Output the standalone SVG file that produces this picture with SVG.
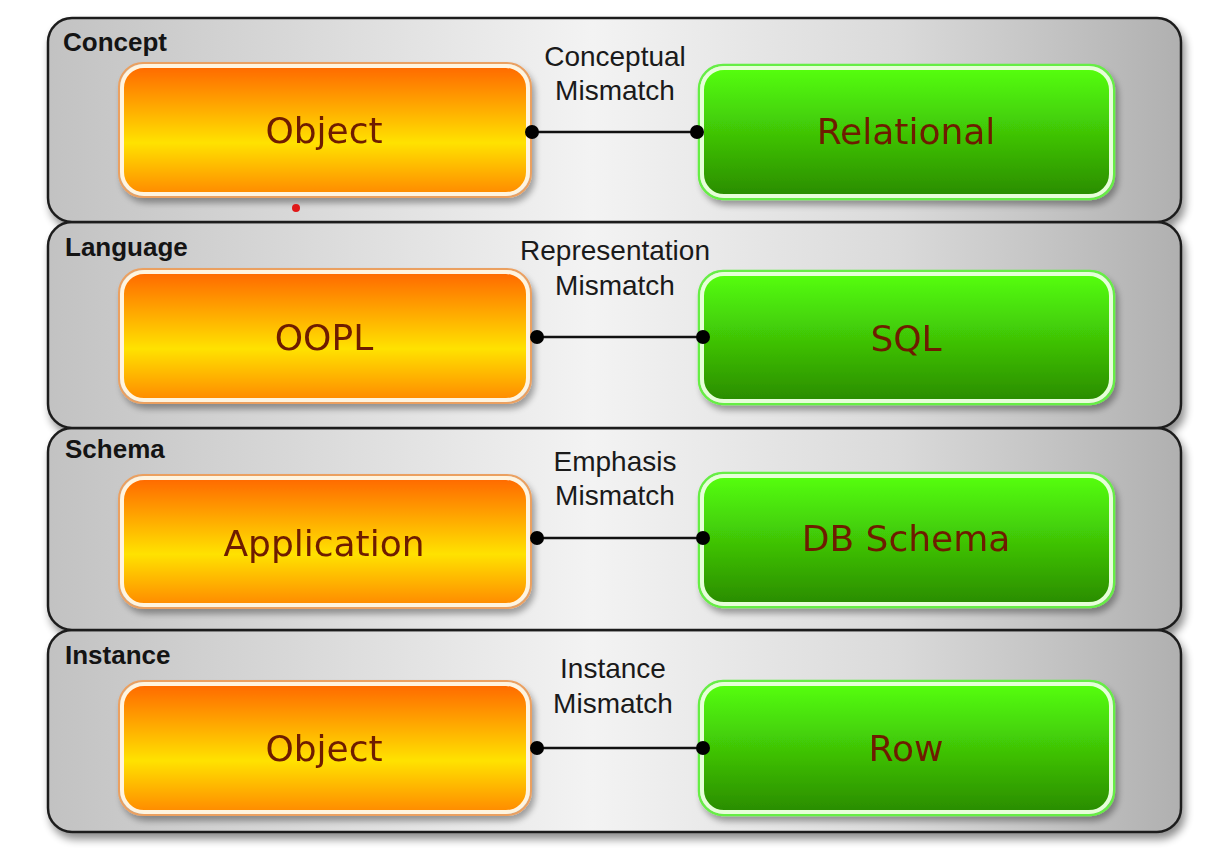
<svg xmlns="http://www.w3.org/2000/svg" width="1210" height="860" viewBox="0 0 1210 860">
<defs>
<linearGradient id="bandG" x1="0" y1="0" x2="1" y2="0">
<stop offset="0" stop-color="#c2c2c2"/>
<stop offset="0.48" stop-color="#f3f3f3"/>
<stop offset="0.75" stop-color="#dadada"/>
<stop offset="1" stop-color="#b0b0b0"/>
</linearGradient>
<linearGradient id="orG" x1="0" y1="0" x2="0" y2="1">
<stop offset="0" stop-color="#ff6800"/>
<stop offset="0.6" stop-color="#ffe200"/>
<stop offset="1" stop-color="#ff8a00"/>
</linearGradient>
<linearGradient id="grG" x1="0" y1="0" x2="0" y2="1">
<stop offset="0" stop-color="#55ff0c"/>
<stop offset="1" stop-color="#2a8c00"/>
</linearGradient>
<filter id="shadow" x="-5%" y="-5%" width="115%" height="125%">
<feGaussianBlur in="SourceAlpha" stdDeviation="4"/>
<feOffset dx="3" dy="6" result="b"/>
<feComponentTransfer><feFuncA type="linear" slope="0.45"/></feComponentTransfer>
<feMerge><feMergeNode/><feMergeNode in="SourceGraphic"/></feMerge>
</filter>
<filter id="bshadow" x="-5%" y="-5%" width="115%" height="125%">
<feGaussianBlur in="SourceAlpha" stdDeviation="3"/>
<feOffset dx="3" dy="5" result="b"/>
<feComponentTransfer><feFuncA type="linear" slope="0.35"/></feComponentTransfer>
<feMerge><feMergeNode/><feMergeNode in="SourceGraphic"/></feMerge>
</filter>
</defs>
<style>
.band{fill:url(#bandG);stroke:#1e1e1e;stroke-width:2.5}
.blabel{font-family:"Liberation Sans",Arial,sans-serif;font-weight:bold;font-size:26px;fill:#141414}
.mlabel{font-family:"Liberation Sans",Arial,sans-serif;font-size:28px;fill:#1a1a1a;text-anchor:middle}
.orOut{fill:none;stroke:#eba060;stroke-width:2}
.or{fill:url(#orG);stroke:#fff4df;stroke-width:4}
.grOut{fill:none;stroke:#66ee44;stroke-width:2.5}
.gr{fill:url(#grG);stroke:#e6ffd8;stroke-width:4}
.ntext{font-family:"DejaVu Sans",Verdana,sans-serif;font-size:36px;fill:#6e1c00;text-anchor:middle}
.conn{stroke:#111;stroke-width:2.5;fill:none}
.dot{fill:#000}
</style>
<rect x="0" y="0" width="1210" height="860" fill="#ffffff"/>

<g id="bands" filter="url(#shadow)">
<rect class="band" x="48" y="630" width="1133" height="202" rx="24"/>
<rect class="band" x="48" y="428" width="1133" height="202" rx="24"/>
<rect class="band" x="48" y="222" width="1133" height="206" rx="24"/>
<rect class="band" x="48" y="18" width="1133" height="204" rx="24"/>
</g>

<g id="band-labels">
<text class="blabel" x="63" y="51">Concept</text>
<text class="blabel" x="65" y="256">Language</text>
<text class="blabel" x="65" y="458">Schema</text>
<text class="blabel" x="65" y="664">Instance</text>
</g>

<g id="node-object1" filter="url(#bshadow)">
<rect class="orOut" x="119" y="63" width="412" height="134" rx="24"/>
<rect class="or" x="122" y="66" width="406" height="128" rx="22"/>
<text class="ntext" x="324" y="143">Object</text>
</g>
<g id="node-relational" filter="url(#bshadow)">
<rect class="grOut" x="699" y="65" width="415" height="134" rx="24"/>
<rect class="gr" x="702" y="68" width="409" height="128" rx="22"/>
<text class="ntext" x="906" y="144">Relational</text>
</g>

<g id="node-oopl" filter="url(#bshadow)">
<rect class="orOut" x="119" y="269" width="412" height="134" rx="24"/>
<rect class="or" x="122" y="272" width="406" height="128" rx="22"/>
<text class="ntext" x="324" y="350">OOPL</text>
</g>
<g id="node-sql" filter="url(#bshadow)">
<rect class="grOut" x="699" y="271" width="415" height="133" rx="24"/>
<rect class="gr" x="702" y="274" width="409" height="127" rx="22"/>
<text class="ntext" x="906" y="351">SQL</text>
</g>

<g id="node-application" filter="url(#bshadow)">
<rect class="orOut" x="119" y="475" width="412" height="133" rx="24"/>
<rect class="or" x="122" y="478" width="406" height="127" rx="22"/>
<text class="ntext" x="324" y="556">Application</text>
</g>
<g id="node-dbschema" filter="url(#bshadow)">
<rect class="grOut" x="699" y="473" width="415" height="134" rx="24"/>
<rect class="gr" x="702" y="476" width="409" height="128" rx="22"/>
<text class="ntext" x="906" y="551">DB Schema</text>
</g>

<g id="node-object2" filter="url(#bshadow)">
<rect class="orOut" x="119" y="681" width="412" height="134" rx="24"/>
<rect class="or" x="122" y="684" width="406" height="128" rx="22"/>
<text class="ntext" x="324" y="761">Object</text>
</g>
<g id="node-row" filter="url(#bshadow)">
<rect class="grOut" x="699" y="681" width="415" height="134" rx="24"/>
<rect class="gr" x="702" y="684" width="409" height="128" rx="22"/>
<text class="ntext" x="906" y="761">Row</text>
</g>

<g id="connectors">
<line class="conn" x1="532" y1="132" x2="697" y2="132"/>
<circle class="dot" cx="532" cy="132" r="7"/>
<circle class="dot" cx="697" cy="132" r="7"/>
<text class="mlabel" x="615" y="66">Conceptual</text>
<text class="mlabel" x="615" y="100">Mismatch</text>

<line class="conn" x1="537" y1="337" x2="703" y2="337"/>
<circle class="dot" cx="537" cy="337" r="7"/>
<circle class="dot" cx="703" cy="337" r="7"/>
<text class="mlabel" x="615" y="260">Representation</text>
<text class="mlabel" x="615" y="295">Mismatch</text>

<line class="conn" x1="537" y1="538" x2="703" y2="538"/>
<circle class="dot" cx="537" cy="538" r="7"/>
<circle class="dot" cx="703" cy="538" r="7"/>
<text class="mlabel" x="615" y="471">Emphasis</text>
<text class="mlabel" x="615" y="505">Mismatch</text>

<line class="conn" x1="537" y1="748" x2="703" y2="748"/>
<circle class="dot" cx="537" cy="748" r="7"/>
<circle class="dot" cx="703" cy="748" r="7"/>
<text class="mlabel" x="613" y="678">Instance</text>
<text class="mlabel" x="613" y="713">Mismatch</text>
</g>

<circle cx="296" cy="208" r="4" fill="#e01818"/>
</svg>
